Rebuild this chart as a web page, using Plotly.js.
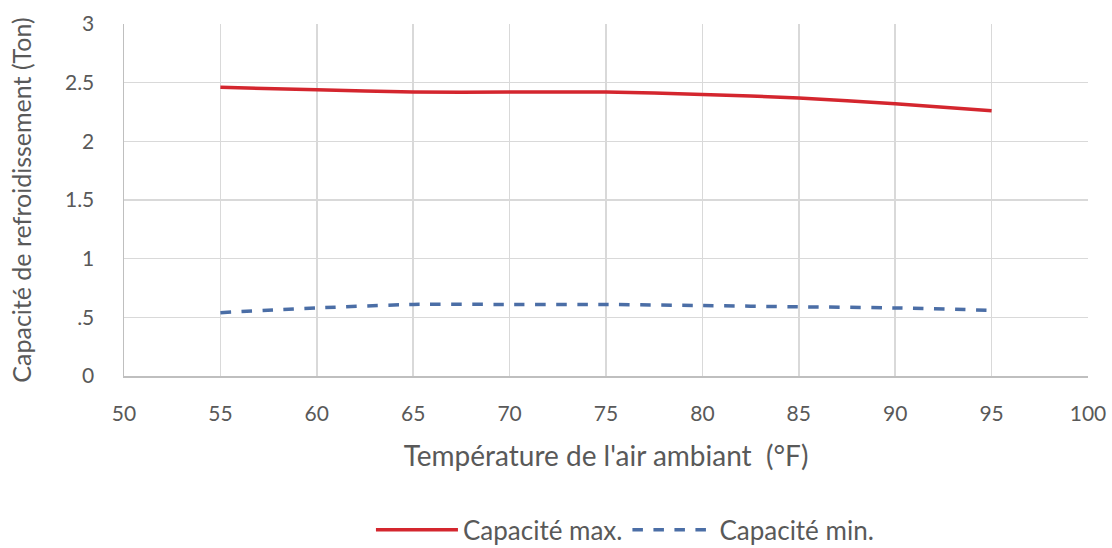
<!DOCTYPE html>
<html>
<head>
<meta charset="utf-8">
<script src="https://cdn.plot.ly/plotly-3.0.1.min.js"></script>
<style>
  html, body { margin: 0; padding: 0; background: #fff; }
  #chart_area { width: 1112px; height: 548px; }
</style>
</head>
<body>
<div id="chart_area"></div>
<script>
// temperatures (°F) and capacities (Ton)
var temps = [55, 60, 65, 70, 75, 80, 85, 90, 95];
var capMax = [2.46, 2.44, 2.42, 2.42, 2.42, 2.40, 2.37, 2.32, 2.26];
var capMin = [0.54, 0.58, 0.61, 0.61, 0.61, 0.60, 0.59, 0.58, 0.56];

var yTickVals = [0, 0.5, 1, 1.5, 2, 2.5, 3];
var yTickText = ['0', '.5', '1', '1.5', '2', '2.5', '3'];
var xTickVals = [50, 55, 60, 65, 70, 75, 80, 85, 90, 95, 100];

var fontFam = 'Lato, Open Sans, sans-serif';
var textGrey = '#595959';

var data = [
    {
        x: temps,
        y: capMax,
        type: 'scatter',
        mode: 'lines',
        name: 'Capacité max.',
        line: { color: '#d4262e', width: 3.5, shape: 'spline', smoothing: 0.6 }
    },
    {
        x: temps,
        y: capMin,
        type: 'scatter',
        mode: 'lines',
        name: 'Capacité min.',
        line: { color: '#4b6ea6', width: 3.5, dash: 'dash', shape: 'spline', smoothing: 0.6 }
    }
];

var layout = {
    width: 1112,
    height: 548,
    margin: { l: 124, r: 24, t: 24, b: 172 },
    paper_bgcolor: '#fff',
    plot_bgcolor: '#fff',
    font: { family: fontFam, color: textGrey, size: 21 },
    showlegend: true,
    legend: {
        orientation: 'h',
        xref: 'container', yref: 'container',
        x: 0.562, xanchor: 'center',
        y: 0.033, yanchor: 'middle',
        font: { size: 26, color: textGrey },
        itemwidth: 82
    },
    xaxis: {
        range: [50, 100],
        tickvals: xTickVals,
        showgrid: true,
        gridcolor: '#d9d9d9',
        gridwidth: 1.5,
        zeroline: false,
        showline: true,
        linecolor: '#bfbfbf',
        linewidth: 1.5,
        ticks: '',
        ticklabelstandoff: 18,
        tickfont: { size: 21, color: textGrey },
        title: { text: "Température de l'air ambiant  (°F)", font: { size: 28, color: textGrey }, standoff: 22 },
        automargin: false
    },
    yaxis: {
        range: [0, 3],
        tickvals: yTickVals,
        ticktext: yTickText,
        showgrid: true,
        gridcolor: '#d9d9d9',
        gridwidth: 1.5,
        zeroline: false,
        showline: true,
        linecolor: '#bfbfbf',
        linewidth: 1.5,
        ticks: '',
        ticklabelstandoff: 24,
        tickfont: { size: 21, color: textGrey },
        title: { text: 'Capacité de refroidissement (Ton)', font: { size: 25, color: textGrey }, standoff: 26 },
        automargin: false
    }
};

var config = { displayModeBar: false, staticPlot: true };

Plotly.newPlot('chart_area', data, layout, config);
</script>
</body>
</html>
